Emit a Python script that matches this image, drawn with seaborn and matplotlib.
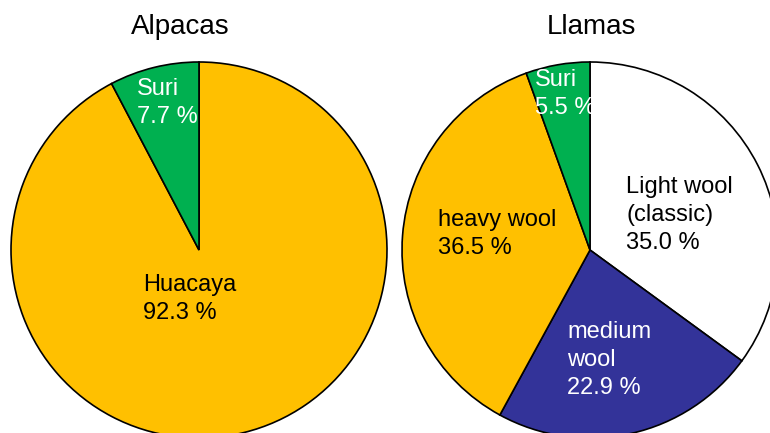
import matplotlib
matplotlib.use("Agg")
import matplotlib.pyplot as plt
import seaborn as sns

# ---- data ----
alpaca_types = ["Huacaya", "Suri"]
alpaca_share = [92.3, 7.7]
llama_types = ["Light wool\n(classic)", "medium\nwool", "heavy wool", "Suri"]
llama_share = [35.0, 22.9, 36.5, 5.5]
titles = ["Alpacas", "Llamas"]

alpaca_colors = ["#FFC000", "#00B050"]
llama_colors = ["#FFFFFF", "#333399", "#FFC000", "#00B050"]
alpaca_text_colors = ["black", "white"]
llama_text_colors = ["black", "white", "black", "white"]

sns.set_theme(style="white")
plt.rcParams["font.family"] = ["Liberation Sans", "DejaVu Sans"]

W, H = 770, 433
fig = plt.figure(figsize=(W / 100, H / 100), dpi=100)
ax = fig.add_axes([0, 0, 1, 1])

R = 188
centers = [(199, H - 250), (590, H - 250)]

# label offsets (relative to pie centre, in px, y up)
alpaca_offsets = [(-56, -24), (-62, 172)]
llama_offsets = [(36, 74), (-23, -71), (-152, 41), (-55, 181)]

groups = [
    (alpaca_types, alpaca_share, alpaca_colors, alpaca_text_colors, alpaca_offsets),
    (llama_types, llama_share, llama_colors, llama_text_colors, llama_offsets),
]

for (names, vals, cols, tcols, offs), c, title in zip(groups, centers, titles):
    labels = [f"{n}\n{v:.1f} %" for n, v in zip(names, vals)]
    wedges, texts = ax.pie(
        vals, labels=labels, colors=cols, startangle=90, counterclock=False,
        center=c, radius=R, labeldistance=0.5,
        wedgeprops=dict(edgecolor="black", linewidth=1.2),
        textprops=dict(fontsize=17),
    )
    for t, tc, (dx, dy) in zip(texts, tcols, offs):
        t.set_position((c[0] + dx, c[1] + dy))
        t.set_ha("left")
        t.set_va("top")
        t.set_color(tc)
        t.set_linespacing(1.34)
    ax.text(c[0] - 19 if title == "Alpacas" else c[0] + 1, H - 14, title,
            ha="center", va="top", fontsize=20, color="black")

ax.set_xlim(0, W)
ax.set_ylim(0, H)
ax.set_aspect("auto")
ax.axis("off")

fig.savefig("out.png", dpi=100)
